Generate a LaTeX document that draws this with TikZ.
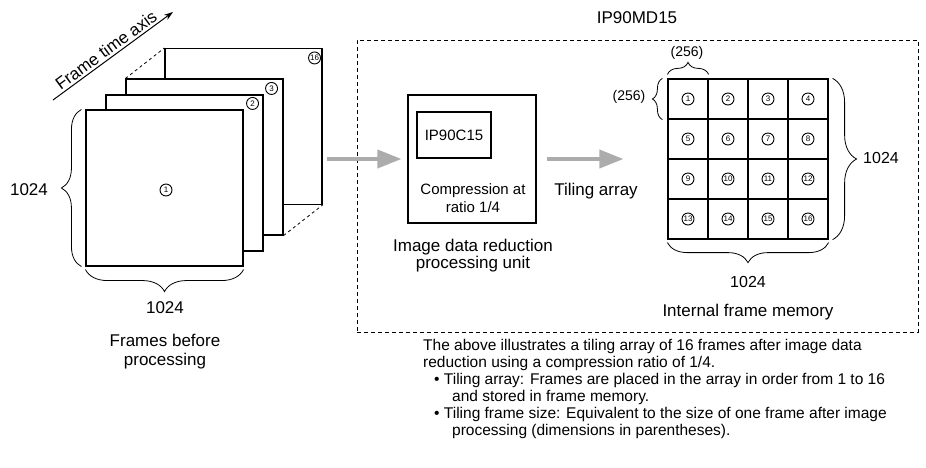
\documentclass[tikz,border=0pt]{standalone}
\usepackage{fontspec}
\setmainfont{Liberation Sans}
\usetikzlibrary{arrows.meta,decorations.pathreplacing,calc}
\begin{document}
\begin{tikzpicture}[x=1pt,y=-1pt,
  lbl/.style={font=\fontsize{17}{19}\selectfont, inner sep=0pt, align=center},
  sml/.style={font=\fontsize{15}{18}\selectfont, inner sep=0pt, align=center},
  tiny/.style={font=\fontsize{14}{16}\selectfont, inner sep=0pt},
  framebox/.style={draw, fill=white, line width=1.1pt, minimum width=157pt, minimum height=156pt, inner sep=0pt},
  cnum/.style={circle, draw, line width=0.9pt, inner sep=0pt, minimum size=12pt, font=\fontsize{8}{8}\selectfont},
  cell/.style={draw, line width=1.2pt, minimum size=40pt, inner sep=0pt},
  brc/.style={decorate, decoration={brace, amplitude=#1}, line width=0.8pt},
  garrow/.style={draw=gray!65, line width=3.8pt, -{Triangle[length=24pt,width=18pt,fill=gray!65]}},
  ]
\useasboundingbox (0,0) rectangle (926,467);

% frame time axis
\coordinate (ta) at (53,100);
\coordinate (tb) at (173,12);
\draw[line width=1pt, -{Stealth[length=9pt,width=6pt]}] (ta) -- (tb);
\node[lbl, rotate=36.25] (fta) at (106,50) {Frame time axis};

% frames
\node[framebox] (f16) at (243.5,126.5) {};
\node[framebox] (f3) at (204.5,157) {};
\node[framebox] (f2) at (184.5,173) {};
\node[framebox] (f1) at (164.5,188) {};
\draw[dashed, line width=0.8pt] (f3.north west) -- (f16.north west);
\draw[dashed, line width=0.8pt] (f3.south east) -- (f16.south east);
\node[cnum] (n1) at (166,190) {1};
\node[cnum] (n2) at ($(f2.north east)+(-11,9)$) {2};
\node[cnum] (n3) at ($(f3.north east)+(-12,10)$) {3};
\node[cnum] (n16) at ($(f16.north east)+(-8,10)$) {16};

% frame braces
\draw[brc=20] ([xshift=-4pt]f1.south west) -- ([xshift=-4pt]f1.north west);
\node[lbl] (l1024a) at (29,190) {1024};
\draw[brc=22] ([yshift=-3pt]f1.south east) -- ([yshift=-3pt]f1.south west);
\node[lbl] (l1024b) at (165,308) {1024};
\node[lbl] (lfb) at (165,352) {Frames before\\processing};

% IP90MD15 dashed box
\node[draw, dash pattern=on 4pt off 3pt, line width=0.9pt, minimum width=561pt, minimum height=292pt, inner sep=0pt] (ipmd) at (637.5,186) {};
\node[lbl] (lipmd) at (637,18) {IP90MD15};

% processing unit
\node[draw, line width=1.1pt, minimum width=128pt, minimum height=128pt, inner sep=0pt] (unit) at (472,159) {};
\node[draw, line width=1.1pt, minimum width=74pt, minimum height=46pt, inner sep=0pt, sml] (chip) at (454,135) {IP90C15};
\node[sml] (lcomp) at (473,198) {Compression at\\ratio 1/4};
\node[lbl, font=\fontsize{17}{17}\selectfont] (lunit) at (473,256) {Image data reduction\\processing unit};
\node[lbl] (ltile) at (596,191) {Tiling array};

% grid
\foreach \r in {0,1,2,3}{
  \foreach \c in {0,1,2,3}{
    \pgfmathtruncatemacro{\k}{\r*4+\c+1}
    \node[cell] (c\k) at (688+40*\c, 99+40*\r) {};
    \node[cnum] at (c\k) {\k};
  }
}

% grid braces
\draw[brc=12] ([yshift=4pt]c1.north west) -- ([yshift=4pt]c1.north east);
\node[tiny] (l256a) at (687,53) {(256)};
\draw[brc=10] ([xshift=-5pt]c1.south west) -- ([xshift=-5pt]c1.north west);
\node[tiny] (l256b) at (629,97) {(256)};
\draw[brc=24] ([xshift=4pt]c4.north east) -- ([xshift=4pt]c16.south east);
\node[lbl, font=\fontsize{16}{16}\selectfont] (l1024c) at (881,158) {1024};
\draw[brc=20] ([yshift=-3pt]c16.south east) -- ([yshift=-3pt]c13.south west);
\node[lbl, font=\fontsize{16}{16}\selectfont] (l1024d) at (748,282) {1024};
\node[lbl] (lmem) at (748,312) {Internal frame memory};

% gray arrows
\draw[garrow] ([xshift=4pt]f16.east |- unit.west) -- ([xshift=-6pt]unit.west);
\draw[garrow] ([xshift=10pt]unit.east) -- ([xshift=-44pt]c5.west |- unit.east);

% bottom text
\node[anchor=north west, inner sep=0pt, align=left, font=\fontsize{15.5}{17}\selectfont] (note) at (423,339) {%
The above illustrates a tiling array of 16 frames after image data\\
reduction using a compression ratio of 1/4.\\
\hspace*{11pt}\textbullet\ Tiling array: Frames are placed in the array in order from 1 to 16\\
\hspace*{29pt}and stored in frame memory.\\
\hspace*{11pt}\textbullet\ Tiling frame size: Equivalent to the size of one frame after image\\
\hspace*{29pt}processing (dimensions in parentheses).};
\end{tikzpicture}
\end{document}
